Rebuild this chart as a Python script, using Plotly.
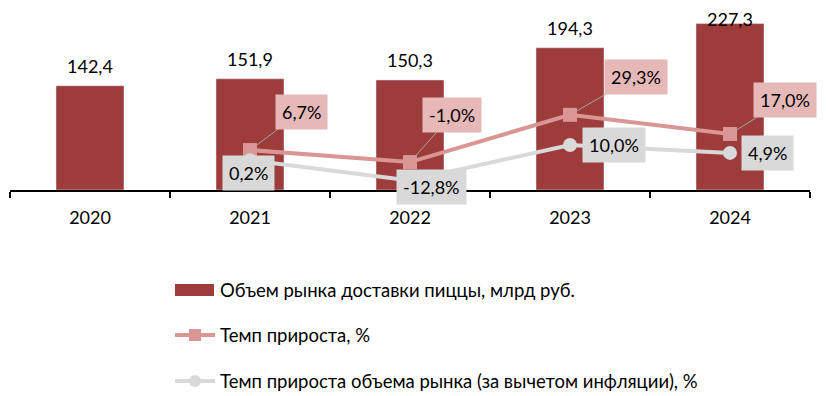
import plotly.graph_objects as go

years = ["2020", "2021", "2022", "2023", "2024"]
market = [142.4, 151.9, 150.3, 194.3, 227.3]
growth_years = ["2021", "2022", "2023", "2024"]
growth = [6.7, -1.0, 29.3, 17.0]
real_growth = [0.2, -12.8, 10.0, 4.9]

name_bar = "Объем рынка доставки пиццы, млрд руб."
name_growth = "Темп прироста, %"
name_real = "Темп прироста объема рынка (за вычетом инфляции), %"

BAR = "#9E3B3B"
PINK = "#D99694"
PINK_BG = "#E6B9B8"
GRAY = "#D9D9D9"
FONT = "Lato"

# page offset of the figure (default body margin)
OX, OY = 8, 8
W, H = 810, 388
ML, MR, MT, MB = 2, 8, 0, 206
PW = W - ML - MR
PH = H - MT - MB

def px(xp):
    return (xp - OX - ML) / PW

def py(yp):
    return (H - MB - (yp - OY)) / PH

def fmt(v, pct=False):
    s = f"{v:.1f}".replace(".", ",")
    return s + ("%" if pct else "")

fig = go.Figure()
fig.add_trace(go.Bar(x=years, y=market, name=name_bar, marker_color=BAR))
fig.add_trace(go.Scatter(x=growth_years, y=growth, name=name_growth, yaxis="y2",
                         mode="lines+markers", line=dict(color=PINK, width=4),
                         marker=dict(symbol="square", size=14, color=PINK)))
fig.add_trace(go.Scatter(x=growth_years, y=real_growth, name=name_real, yaxis="y2",
                         mode="lines+markers", line=dict(color=GRAY, width=4),
                         marker=dict(symbol="circle", size=14, color=GRAY)))

ann = []
bar_shift = [20, 20, 20, 20, 5]
for i, (x, v) in enumerate(zip(years, market)):
    ann.append(dict(x=i, y=v, xref="x", yref="y", text=fmt(v), showarrow=False,
                    yanchor="middle", yshift=bar_shift[i], font=dict(size=18, color="#000")))

pink_off = [(51, -38), (42, -47), (66, -38), (55, -34)]
for x, v, (ax, ay) in zip(growth_years, growth, pink_off):
    ann.append(dict(x=years.index(x), y=v, xref="x", yref="y2", text=fmt(v, True),
                    showarrow=True, ax=ax, ay=ay, arrowhead=0, arrowwidth=1,
                    arrowcolor="#A6A6A6", standoff=6, bgcolor=PINK_BG, borderpad=6,
                    font=dict(size=18, color="#000")))

gray_off = [(-2, -13), (21, -7), (44, 0), (37, 0)]
for x, v, (xs, ys) in zip(growth_years, real_growth, gray_off):
    ann.append(dict(x=years.index(x), y=v, xref="x", yref="y2", text=fmt(v, True),
                    showarrow=False, xshift=xs, yshift=ys, bgcolor=GRAY, borderpad=6,
                    font=dict(size=18, color="#000")))

# custom legend
shapes = []
leg_rows = [(name_bar, 290), (name_growth, 335), (name_real, 381)]
shapes.append(dict(type="rect", xref="paper", yref="paper", x0=px(175), x1=px(214),
                   y0=py(284), y1=py(296), fillcolor=BAR, line=dict(width=0)))
shapes.append(dict(type="line", xref="paper", yref="paper", x0=px(175), x1=px(215),
                   y0=py(335), y1=py(335), line=dict(color=PINK, width=4)))
shapes.append(dict(type="rect", xref="paper", yref="paper", x0=px(189), x1=px(201),
                   y0=py(329), y1=py(341), fillcolor=PINK, line=dict(width=0)))
shapes.append(dict(type="line", xref="paper", yref="paper", x0=px(175), x1=px(215),
                   y0=py(381), y1=py(381), line=dict(color=GRAY, width=4)))
shapes.append(dict(type="circle", xref="paper", yref="paper", x0=px(189), x1=px(201),
                   y0=py(375), y1=py(387), fillcolor=GRAY, line=dict(width=0)))
for name, yy in leg_rows:
    ann.append(dict(x=px(218), y=py(yy), xref="paper", yref="paper", text=name,
                    showarrow=False, xanchor="left", yanchor="middle",
                    font=dict(size=18.5, color="#000")))

fig.update_layout(
    width=W, height=H,
    margin=dict(l=ML, r=MR, t=MT, b=MB, autoexpand=False),
    paper_bgcolor="white", plot_bgcolor="white",
    font=dict(family=FONT, size=16, color="#000"),
    bargap=0.575,
    showlegend=False,
    xaxis=dict(type="category", range=[-0.5, 4.5], showline=True, linecolor="#000",
               linewidth=1.5, ticks="outside", tickson="boundaries", ticklen=6,
               tickcolor="#000", tickwidth=1.5, showgrid=False, ticklabelstandoff=11,
               tickfont=dict(size=18)),
    yaxis=dict(range=[0, 248.6], visible=False, showgrid=False),
    yaxis2=dict(range=[-18.9, 97.8], overlaying="y", visible=False, showgrid=False),
    annotations=ann,
    shapes=shapes,
)

fig.write_html("out.html")
